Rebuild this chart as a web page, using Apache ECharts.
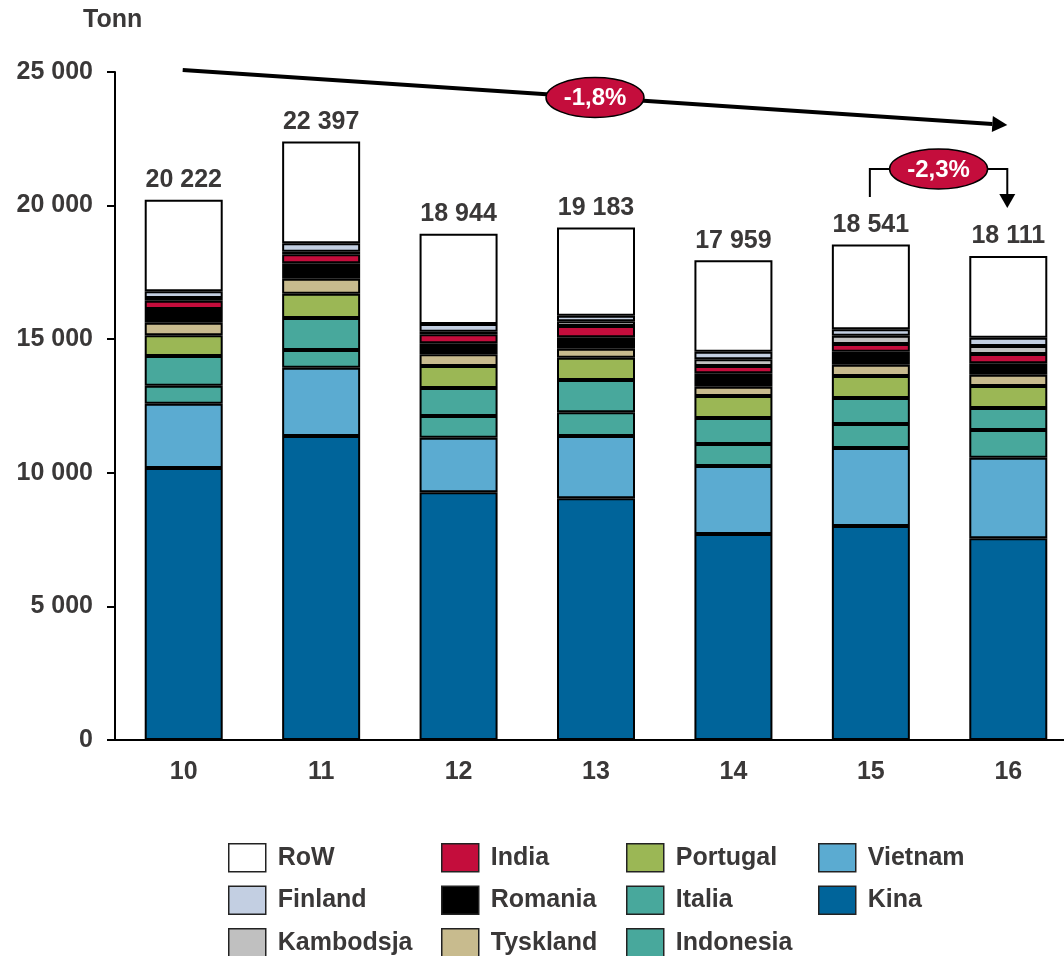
<!DOCTYPE html>
<html><head><meta charset="utf-8">
<script src="https://cdn.jsdelivr.net/npm/echarts@6/dist/echarts.min.js"></script>
<style>html,body{margin:0;padding:0;background:#fff}#c{width:1064px;height:956px}</style>
</head><body><div id="c"></div>
<script>
const categories = ['10', '11', '12', '13', '14', '15', '16'];
const kina      = [10180, 11377, 9270, 9046, 7710, 8009, 7549];
const vietnam   = [2406, 2556, 2043, 2332, 2545, 2919, 3016];
const indonesia = [674, 662, 812, 887, 823, 898, 1037];
const italia    = [1111, 1198, 1048, 1209, 973, 973, 823];
const portugal  = [775, 909, 823, 835, 823, 823, 823];
const tyskland  = [472, 561, 438, 337, 348, 423, 423];
const romania   = [513, 576, 412, 427, 501, 487, 427];
const india     = [311, 337, 337, 423, 273, 288, 348];
const kambodsja = [100, 100, 100, 176, 251, 311, 299];
const finland   = [250, 314, 288, 210, 284, 240, 311];
const row       = [3430, 3807, 3373, 3301, 3428, 3170, 3055];
const totals    = [20222, 22397, 18944, 19183, 17959, 18541, 18111];
const growthLabels = ['-1,8%', '-2,3%'];

const FONT = '"Liberation Sans", Arial, sans-serif';
const TXT = '#3a3838';
const FS = 25;
const fmt = v => String(v).replace(/\B(?=(\d{3})+(?!\d))/g, ' ');

const seriesDefs = [
  ['Kina', kina, '#00649A'],
  ['Vietnam', vietnam, '#5BABD1'],
  ['Indonesia', indonesia, '#48A89C'],
  ['Italia', italia, '#48A89C'],
  ['Portugal', portugal, '#9BB755'],
  ['Tyskland', tyskland, '#C8BB8E'],
  ['Romania', romania, '#000000'],
  ['India', india, '#C40D3C'],
  ['Kambodsja', kambodsja, '#C0C0C0'],
  ['Finland', finland, '#C3CFE2'],
  ['RoW', row, '#FFFFFF']
];

const series = seriesDefs.map(([name, data, color]) => {
  const s = {
    name, type: 'bar', stack: 'total', data, barWidth: 78,
    itemStyle: { color, borderColor: '#000', borderWidth: 2 },
    emphasis: { disabled: true }
  };
  if (name === 'RoW') {
    s.label = {
      show: true, position: 'top', distance: 7,
      formatter: p => fmt(totals[p.dataIndex]),
      fontFamily: FONT, fontWeight: 'bold', fontSize: FS, color: TXT
    };
  }
  return s;
});

const legendCols = [
  { left: 228, data: ['RoW', 'Finland', 'Kambodsja'] },
  { left: 441, data: ['India', 'Romania', 'Tyskland'] },
  { left: 626, data: ['Portugal', 'Italia', 'Indonesia'] },
  { left: 818, data: ['Vietnam', 'Kina'] }
];

const chart = echarts.init(document.getElementById('c'));
chart.setOption({
  animation: false,
  backgroundColor: '#fff',
  title: { text: 'Tonn', left: 83, top: 8, padding: 0,
    textStyle: { fontFamily: FONT, fontWeight: 'bold', fontSize: FS, color: TXT } },
  grid: { left: 115, top: 72, width: 962, height: 668, containLabel: false, outerBoundsMode: 'none' },
  legend: legendCols.map(c => ({
    left: c.left, top: 843, orient: 'vertical', data: c.data, padding: 0,
    icon: 'rect', itemWidth: 37, itemHeight: 28, itemGap: 13, height: 200,
    selectedMode: false,
    itemStyle: { borderColor: '#222', borderWidth: 1.5 },
    textStyle: { fontFamily: FONT, fontWeight: 'bold', fontSize: FS, color: TXT, padding: [0, 0, 0, 7] }
  })),
  xAxis: {
    type: 'category', data: categories,
    axisLine: { lineStyle: { color: '#000', width: 2 } },
    axisTick: { show: false },
    axisLabel: { fontFamily: FONT, fontWeight: 'bold', fontSize: FS, color: TXT, margin: 20 }
  },
  yAxis: {
    type: 'value', min: 0, max: 25000, interval: 5000,
    axisLine: { show: true, lineStyle: { color: '#000', width: 2 } },
    axisTick: { show: true, length: 8, lineStyle: { color: '#000', width: 2 } },
    splitLine: { show: false },
    axisLabel: { fontFamily: FONT, fontWeight: 'bold', fontSize: FS, color: TXT, margin: 22, formatter: v => fmt(v) }
  },
  series
});

// annotations
function px(cat, val) { return chart.convertToPixel({ gridIndex: 0 }, [cat, val]); }
function arrowHead(tip, from, len, half) {
  const dx = tip[0] - from[0], dy = tip[1] - from[1];
  const L = Math.hypot(dx, dy); const ux = dx / L, uy = dy / L;
  const bx = tip[0] - ux * len, by = tip[1] - uy * len;
  return { base: [bx, by], pts: [tip, [bx - uy * half, by + ux * half], [bx + uy * half, by - ux * half]] };
}
const ELL = { fill: '#C40D3C', stroke: '#000', lineWidth: 1.5 };
function ellipse(cx, cy, text) {
  return [
    { type: 'ellipse', shape: { cx, cy, rx: 49, ry: 20 }, style: ELL, z: 20 },
    { type: 'text', x: cx, y: cy + 1, z: 21, style: { text, fill: '#fff', font: 'bold 24px ' + FONT, align: 'center', verticalAlign: 'middle' } }
  ];
}
const xs = px('10', 0)[0] - 1;
const xe = px('16', 0)[0] - 1;
const s0 = [xs, 70], e0 = [xe, 125];
const ah = arrowHead(e0, s0, 15, 8);
const x15 = px('15', 0)[0] - 1;
const ah2 = arrowHead([xe, 208], [xe, 169], 14, 8);
const g = [
  { type: 'line', shape: { x1: s0[0], y1: s0[1], x2: ah.base[0], y2: ah.base[1] }, style: { stroke: '#000', lineWidth: 4 }, z: 10 },
  { type: 'polygon', shape: { points: ah.pts }, style: { fill: '#000' }, z: 10 },
  ...ellipse((s0[0] + e0[0]) / 2, (s0[1] + e0[1]) / 2, growthLabels[0]),
  { type: 'polyline', shape: { points: [[x15, 197], [x15, 169], [xe, 169], ah2.base] }, style: { stroke: '#000', lineWidth: 2, fill: null }, z: 10 },
  { type: 'polygon', shape: { points: ah2.pts }, style: { fill: '#000' }, z: 10 },
  ...ellipse((x15 + xe) / 2, 169, growthLabels[1])
];
chart.setOption({ graphic: g });
</script></body></html>
